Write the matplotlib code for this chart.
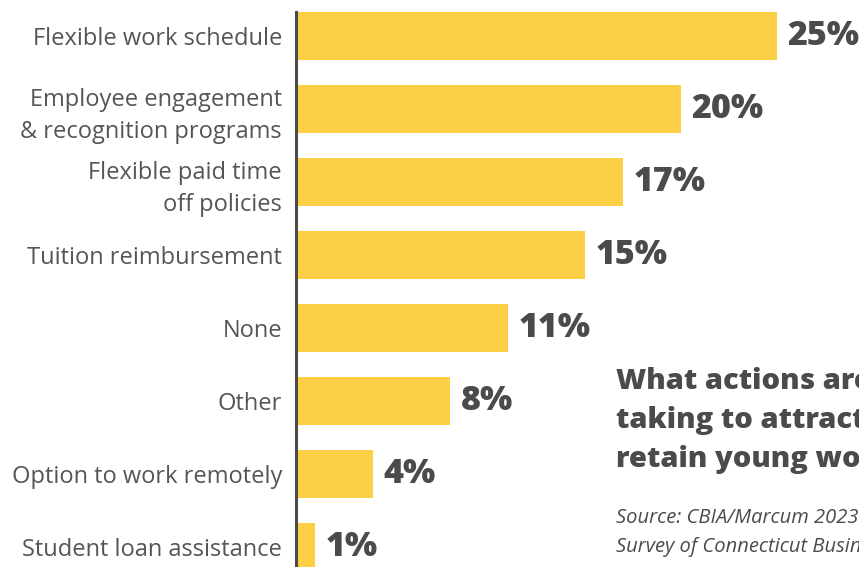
import matplotlib.pyplot as plt

# Survey data: share of businesses per action
categories = [
    "Flexible work schedule",
    "Employee engagement\n& recognition programs",
    "Flexible paid time\noff policies",
    "Tuition reimbursement",
    "None",
    "Other",
    "Option to work remotely",
    "Student loan assistance",
]
values = [25, 20, 17, 15, 11, 8, 4, 1]

title = "What actions are businesses\ntaking to attract/\nretain young workers?"
source = "Source: CBIA/Marcum 2023\nSurvey of Connecticut Businesses"

bar_color = "#FDCF45"
text_color = "#4b4b4b"
label_color = "#555555"

plt.rcParams['font.family'] = ['Open Sans', 'DejaVu Sans']

fig = plt.figure(figsize=(8.59, 5.67), dpi=100)
ax = fig.add_axes([296 / 859, 0, 563 / 859, 555 / 567])

y = list(range(len(values)))
ax.barh(y, values, height=0.66, color=bar_color, zorder=2)

for yi, v in zip(y, values):
    ax.text(v + 0.55, yi, f"{v}%", va="center", ha="left",
            fontsize=24.5, fontweight="heavy", color=text_color)

ax.set_xlim(0, 29.26)
ax.set_ylim(7.27, -0.33)
ax.set_yticks(y)
ax.set_yticklabels(categories, fontsize=17, color=label_color, linespacing=1.42)
ax.tick_params(axis="y", length=0, pad=10)
ax.set_xticks([])

for side in ["top", "right", "bottom"]:
    ax.spines[side].set_visible(False)
ax.spines["left"].set_color(text_color)
ax.spines["left"].set_linewidth(2.2)

# Title and source note on the right side
fig.text(616 / 859, 1 - 367 / 567, title, fontsize=21, fontweight="heavy",
         color=text_color, va="top", ha="left", linespacing=1.45)
fig.text(616 / 859, 1 - 508 / 567, source, fontsize=14.5, style="italic",
         color=text_color, va="top", ha="left", linespacing=1.6)

fig.savefig("out.png", dpi=100)
